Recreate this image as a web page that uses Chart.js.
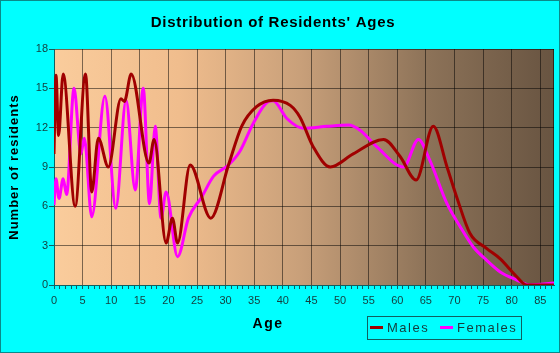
<!DOCTYPE html>
<html>
<head>
<meta charset="utf-8">
<script src="https://cdn.jsdelivr.net/npm/chart.js@4"></script>
<style>
  body { margin: 0; background: #00ffff; }
  canvas { display: block; }
</style>
</head>
<body>
<canvas id="ages" width="560" height="353"></canvas>
<script>
// residents' ages

const maleAges = [0, 0.35, 0.8, 1.6, 3.7, 5.5, 6.6, 7.75, 9.5, 11.7, 12.3, 13.5, 16.6, 17.5, 19.6, 20.7, 21.6,
    23.8, 27.4, 30.5, 32.8, 35.4, 38.3, 41.3, 43, 45.3, 48.3, 52.3, 57.6, 60.5, 63.3, 66.3, 68.7, 70.4,
    72.7, 75.6, 78, 80.9, 82.6, 87.5];
const males = [10, 16, 11.4, 16.1, 6, 16.1, 7.1, 11.2, 9, 14.2, 14, 16.1, 9.3, 11.1, 3.2, 5.1, 3.2,
    9.15, 5.1, 9.15, 12.1, 13.6, 14.1, 13.7, 12.8, 10.55, 9, 10, 11.1, 9.8, 8, 12.1, 9, 6.7,
    3.95, 2.8, 2, 0.63, 0, 0];

const femaleAges = [0, 0.35, 0.87, 1.6, 2.2, 3.5, 4.7, 5.3, 6.6, 8.9, 10.8, 12.6, 14.2, 15.6, 16.7, 17.7, 18.7, 19.6,
    21.6, 23.5, 25.8, 27.9, 30.5, 32.5, 34.8, 37.5, 38.3, 40.7, 43.6, 47.7, 51.5, 53.5, 56.4, 61.1, 63.7,
    65.7, 68.7, 71, 73.3, 75.6, 78, 80.9, 83.2, 87.5];
const females = [6.1, 8.1, 6.6, 8.1, 6.9, 15, 10, 11.2, 5.2, 14.4, 5.85, 14.1, 7.25, 15, 6.2, 12.1, 5.1, 7.1,
    2.16, 5.1, 6.7, 8.3, 9.15, 10.2, 12.3, 14, 14.05, 12.7, 11.95, 12.1, 12.2, 11.8, 10.55, 9, 11.1,
    9.5, 6.2, 4.45, 2.9, 1.9, 1, 0.38, 0, 0.15];

const yTicks = [0, 3, 6, 9, 12, 15, 18];

const teal = "#106060";
const textColor = "#143c3c";

const toPoints = (xs, ys) => xs.map((x, i) => ({ x: x, y: ys[i] }));

// background, frame, titles and legend

const decor = {
    id: "decor",
    beforeDraw(chart) {
        const ctx = chart.ctx;
        const a = chart.chartArea;
        ctx.save();
        ctx.fillStyle = "#00ffff";
        ctx.fillRect(0, 0, chart.width, chart.height);
        ctx.strokeStyle = "#0a8a8a";
        ctx.lineWidth = 1;
        ctx.strokeRect(0.5, 0.5, chart.width - 1, chart.height - 1);

        const g = ctx.createLinearGradient(a.left, 0, a.right, 0);
        g.addColorStop(0, "#facc9c");
        g.addColorStop(0.25, "#f0bd8d");
        g.addColorStop(0.49, "#c9a07a");
        g.addColorStop(0.75, "#8c7258");
        g.addColorStop(1, "#685441");
        ctx.fillStyle = g;
        ctx.fillRect(a.left, a.top, a.right - a.left, a.bottom - a.top);
        ctx.restore();
    },
    beforeDatasetsDraw(chart) {
        const ctx = chart.ctx;
        const a = chart.chartArea;
        ctx.save();
        ctx.strokeStyle = "rgba(0,0,0,0.55)";
        ctx.lineWidth = 1;
        ctx.beginPath();
        ctx.moveTo(a.right - 0.5, a.top);
        ctx.lineTo(a.right - 0.5, a.bottom);
        ctx.stroke();
        ctx.restore();
    },
    afterDraw(chart) {
        const ctx = chart.ctx;
        ctx.save();
        ctx.textAlign = "center";
        ctx.textBaseline = "middle";

        // title
        ctx.fillStyle = "#000";
        ctx.font = "bold 15px 'Liberation Sans', Arial, sans-serif";
        ctx.letterSpacing = "0.7px";
        ctx.fillText("Distribution of Residents' Ages", 273, 23);

        // axis titles
        ctx.font = "bold 14px 'Liberation Sans', Arial, sans-serif";
        ctx.letterSpacing = "1.5px";
        ctx.fillText("Age", 268, 324);

        ctx.save();
        ctx.translate(14, 167);
        ctx.rotate(-Math.PI / 2);
        ctx.font = "bold 13px 'Liberation Sans', Arial, sans-serif";
        ctx.letterSpacing = "1px";
        ctx.fillText("Number of residents", 0, 0);
        ctx.restore();

        // legend
        ctx.strokeStyle = teal;
        ctx.lineWidth = 1;
        ctx.strokeRect(367.5, 316.5, 154, 23);
        ctx.textAlign = "left";
        ctx.font = "13px 'Liberation Sans', Arial, sans-serif";
        ctx.letterSpacing = "1.5px";
        const items = [[370, 387], [440, 457]];
        chart.data.datasets.forEach((ds, i) => {
            ctx.strokeStyle = ds.borderColor;
            ctx.lineWidth = 3;
            ctx.beginPath();
            ctx.moveTo(items[i][0], 327.5);
            ctx.lineTo(items[i][0] + 13, 327.5);
            ctx.stroke();
            ctx.fillStyle = textColor;
            ctx.fillText(ds.label, items[i][1], 328);
        });
        ctx.restore();
    }
};

new Chart(document.getElementById("ages"), {
    type: "line",
    data: {
        datasets: [
            {
                label: "Males",
                data: toPoints(maleAges, males),
                borderColor: "#a00000",
                borderWidth: 3,
                pointRadius: 0,
                cubicInterpolationMode: "monotone",
            },
            {
                label: "Females",
                data: toPoints(femaleAges, females),
                borderColor: "#ff00ff",
                borderWidth: 3,
                pointRadius: 0,
                cubicInterpolationMode: "monotone",
            },
        ],
    },
    options: {
        responsive: false,
        animation: false,
        devicePixelRatio: 1,
        layout: {
            padding: { top: 49, right: 6, left: 0, bottom: 0 }
        },
        plugins: {
            legend: { display: false },
            title: { display: false },
            tooltip: { enabled: false },
        },
        scales: {
            x: {
                type: "linear",
                min: 0,
                max: 87.4,
                afterFit: (s) => { s.height = 68; },
                border: { color: teal },
                grid: {
                    color: (c) => (c.tick && c.tick.value % 5 === 0 && c.tick.value > 0) ? "rgba(0,0,0,0.5)" : "transparent",
                    tickColor: teal,
                    tickLength: 4,
                },
                ticks: {
                    stepSize: 1,
                    autoSkip: false,
                    maxRotation: 0,
                    includeBounds: false,
                    padding: 5,
                    color: textColor,
                    font: { size: 11, family: "'Liberation Sans', Arial, sans-serif" },
                    callback: (v) => v % 5 === 0 ? v : "",
                },
            },
            y: {
                min: 0,
                max: 18,
                afterFit: (s) => { s.width = 54; },
                afterBuildTicks: (s) => { s.ticks = yTicks.map(v => ({ value: v })); },
                border: { color: teal },
                grid: {
                    color: (c) => c.tick && c.tick.value > 0 ? "rgba(0,0,0,0.5)" : "transparent",
                    tickColor: teal,
                    tickLength: 5,
                },
                ticks: {
                    padding: 1,
                    color: textColor,
                    font: { size: 11, family: "'Liberation Sans', Arial, sans-serif" },
                },
            },
        },
    },
    plugins: [decor],
});
</script>
</body>
</html>
